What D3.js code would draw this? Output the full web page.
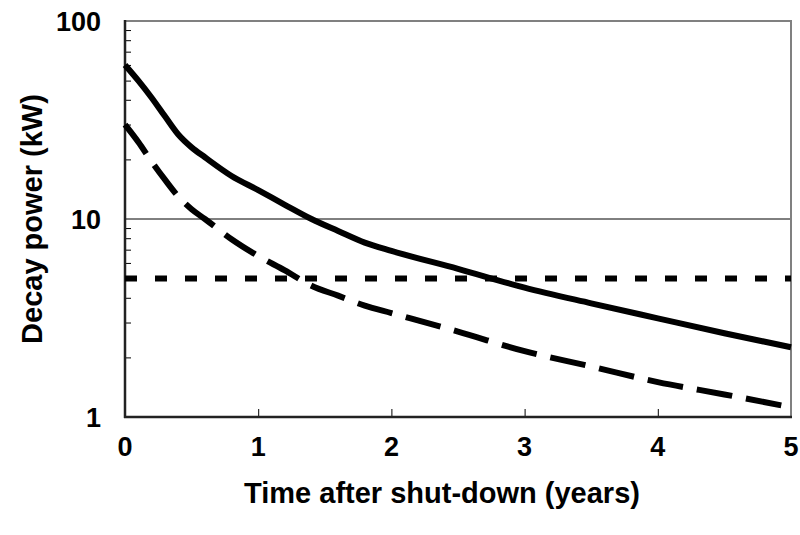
<!DOCTYPE html>
<html>
<head>
<meta charset="utf-8">
<script src="https://cdn.jsdelivr.net/npm/d3@7"></script>
<style>
  body { margin: 0; background: #fff; }
  svg text { font-family: "Liberation Sans", Arial, sans-serif; font-weight: bold; fill: #000; }
</style>
</head>
<body>
<div id="chart"></div>
<script>
const years = [0, 0.1, 0.2, 0.3, 0.4, 0.5, 0.6, 0.8, 1.0, 1.2, 1.4, 1.6, 1.8, 2.0, 2.5, 3.0, 3.5, 4.0, 4.5, 5.0];
const powerA = [60, 50, 41, 33, 26.7, 23, 20.5, 16.5, 14, 11.8, 10, 8.7, 7.6, 6.9, 5.6, 4.5, 3.75, 3.15, 2.65, 2.25];
const powerB = [30, 24.5, 19.5, 15.8, 13, 11.2, 10, 7.9, 6.5, 5.5, 4.6, 4.1, 3.65, 3.35, 2.7, 2.15, 1.8, 1.5, 1.3, 1.12];
const limitYears = [0, 5];
const limitPower = [5, 5];
const xTicks = [0, 1, 2, 3, 4, 5];
const yTicks = [1, 10, 100];

const width = 800, height = 535;
const margin = { top: 21, right: 9, bottom: 118, left: 125 };

const svg = d3.select("#chart").append("svg")
    .attr("width", width)
    .attr("height", height);

const x = d3.scaleLinear()
    .domain([0, 5])
    .range([margin.left, width - margin.right]);

const y = d3.scaleLog()
    .domain([1, 100])
    .range([height - margin.bottom, margin.top]);

// minor ticks on the log axis
const minor = [];
[1, 10].forEach(d => { for (let k = 2; k <= 9; k++) minor.push(d * k); });

// gridline at 10
svg.append("line")
    .attr("x1", x(0)).attr("x2", x(5))
    .attr("y1", y(10)).attr("y2", y(10))
    .attr("stroke", "#000").attr("stroke-width", 1);

// top and right border
svg.append("path")
    .attr("d", `M${x(0)},${y(100)}H${x(5)}V${y(1)}`)
    .attr("fill", "none").attr("stroke", "#808080").attr("stroke-width", 2);

// y axis
const yAxis = svg.append("g")
    .attr("transform", `translate(${x(0)},0)`)
    .call(d3.axisRight(y).tickValues(minor).tickSize(6).tickFormat(""));
yAxis.select(".domain").remove();
yAxis.selectAll("line").attr("stroke", "#000");

svg.append("g")
    .selectAll("text")
    .data(yTicks)
    .join("text")
    .attr("x", x(0) - 24)
    .attr("y", d => y(d))
    .attr("dy", "0.36em")
    .attr("text-anchor", "end")
    .style("font-size", "27px")
    .text(d => d);

// x axis
const xAxis = svg.append("g")
    .attr("transform", `translate(0,${y(1)})`)
    .call(d3.axisTop(x).tickValues([1, 2, 3, 4]).tickSize(8).tickFormat(""));
xAxis.select(".domain").remove();
xAxis.selectAll("line").attr("stroke", "#000");

svg.append("g")
    .selectAll("text")
    .data(xTicks)
    .join("text")
    .attr("x", d => x(d))
    .attr("y", y(1) + 39)
    .attr("text-anchor", "middle")
    .style("font-size", "27px")
    .text(d => d);

svg.append("line")
    .attr("x1", x(0)).attr("x2", x(0))
    .attr("y1", y(100) - 1).attr("y2", y(1) + 1)
    .attr("stroke", "#222").attr("stroke-width", 2.5);
svg.append("line")
    .attr("x1", x(0) - 1).attr("x2", x(5) + 1)
    .attr("y1", y(1)).attr("y2", y(1))
    .attr("stroke", "#222").attr("stroke-width", 2.5);

// series
const line = d3.line()
    .x(d => x(d[0]))
    .y(d => y(d[1]))
    .curve(d3.curveMonotoneX);

svg.append("path")
    .datum(d3.zip(limitYears, limitPower))
    .attr("d", line)
    .attr("fill", "none")
    .attr("stroke", "#000")
    .attr("stroke-width", 6)
    .attr("stroke-dasharray", "12,18");

svg.append("path")
    .datum(d3.zip(years, powerB))
    .attr("d", line)
    .attr("fill", "none")
    .attr("stroke", "#000")
    .attr("stroke-width", 6)
    .attr("stroke-dasharray", "36,14");

svg.append("path")
    .datum(d3.zip(years, powerA))
    .attr("d", line)
    .attr("fill", "none")
    .attr("stroke", "#000")
    .attr("stroke-width", 6);

// axis titles
svg.append("text")
    .attr("x", 442)
    .attr("y", 503)
    .attr("text-anchor", "middle")
    .style("font-size", "29px")
    .text("Time after shut-down (years)");

svg.append("text")
    .attr("transform", `translate(42,${(y(1) + y(100)) / 2}) rotate(-90)`)
    .attr("text-anchor", "middle")
    .style("font-size", "29px")
    .text("Decay power (kW)");
</script>
</body>
</html>
